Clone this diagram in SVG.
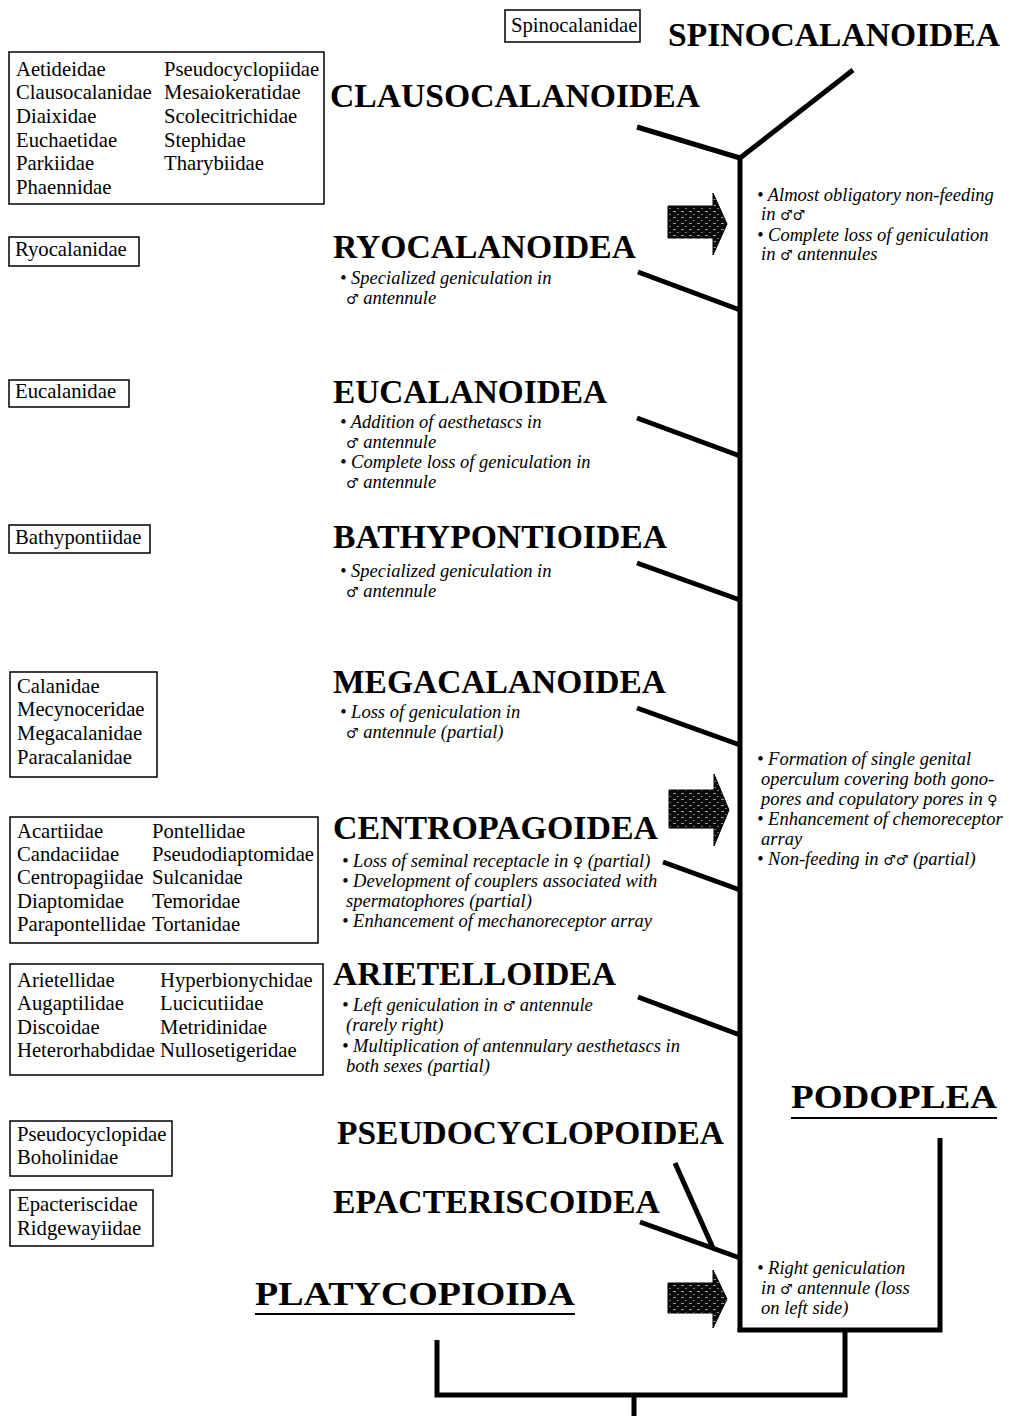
<svg xmlns="http://www.w3.org/2000/svg" width="1009" height="1416" viewBox="0 0 1009 1416">
<style>
.bg{fill:#fff}
.box{fill:none;stroke:#000;stroke-width:1.5}
.fam{font-family:"Liberation Serif","DejaVu Serif",serif;font-size:20.7px;fill:#000}
.head{font-family:"Liberation Serif","DejaVu Serif",serif;font-size:33px;font-weight:bold;fill:#000}
.note{font-family:"Liberation Serif","DejaVu Serif",serif;font-size:18.5px;font-style:italic;fill:#000}
.sym{font-family:"DejaVu Serif",serif;font-size:14px;font-style:normal}
.br{stroke:#000;stroke-width:5;fill:none;stroke-linecap:butt}
.ul{stroke:#000;stroke-width:2}
.arr{fill:url(#tex);stroke:#000;stroke-width:1}
</style>
<defs>
<pattern id="tex" width="8" height="6" patternUnits="userSpaceOnUse">
<rect width="8" height="6" fill="#0a0a0a"/>
<rect x="1" y="1" width="3" height="1" fill="#999"/>
<rect x="5" y="4" width="2" height="1" fill="#777"/>
</pattern>
</defs>
<rect class="bg" width="1009" height="1416"/>

<g id="connectors">
<line class="br" x1="740" y1="156" x2="740" y2="1332"/>
<line class="br" x1="740" y1="158" x2="853" y2="70"/>
<line class="br" x1="637" y1="127" x2="740" y2="158"/>
<line class="br" x1="638" y1="272" x2="740" y2="310"/>
<line class="br" x1="637" y1="418" x2="740" y2="456"/>
<line class="br" x1="637" y1="563" x2="740" y2="600"/>
<line class="br" x1="637" y1="708" x2="740" y2="745"/>
<line class="br" x1="663" y1="862" x2="740" y2="890"/>
<line class="br" x1="638" y1="997" x2="740" y2="1035"/>
<line class="br" x1="675" y1="1163" x2="713" y2="1248"/>
<line class="br" x1="640" y1="1222" x2="740" y2="1258"/>
<polyline class="br" points="737.5,1330 940,1330 940,1138"/>
<polyline class="br" points="845,1330 845,1395 437,1395 437,1340"/>
<line class="br" x1="634" y1="1395" x2="634" y2="1416"/>
</g>

<g id="arrows">
<path class="arr" d="M668,206 H713 V193 L727,224 L713,255 V238 H668 Z"/>
<path class="arr" d="M669,790 H714 V774 L729,810 L714,846 V828 H669 Z"/>
<path class="arr" d="M668,1283 H713 V1270 L727,1299 L713,1328 V1313 H668 Z"/>
</g>

<g id="spinocalanoidea">
<rect class="box" x="505" y="10" width="135" height="32"/>
<text class="fam" x="511" y="32" font-size="19">Spinocalanidae</text>
<text class="head" x="668" y="46" textLength="332" lengthAdjust="spacingAndGlyphs">SPINOCALANOIDEA</text>
</g>

<g id="clausocalanoidea">
<rect class="box" x="9" y="52" width="315" height="152"/>
<text class="fam" x="16" y="76">Aetideidae</text>
<text class="fam" x="16" y="99">Clausocalanidae</text>
<text class="fam" x="16" y="123">Diaixidae</text>
<text class="fam" x="16" y="147">Euchaetidae</text>
<text class="fam" x="16" y="170">Parkiidae</text>
<text class="fam" x="16" y="194">Phaennidae</text>
<text class="fam" x="164" y="76">Pseudocyclopiidae</text>
<text class="fam" x="164" y="99">Mesaiokeratidae</text>
<text class="fam" x="164" y="123">Scolecitrichidae</text>
<text class="fam" x="164" y="147">Stephidae</text>
<text class="fam" x="164" y="170">Tharybiidae</text>
<text class="head" x="330" y="107" textLength="370" lengthAdjust="spacingAndGlyphs">CLAUSOCALANOIDEA</text>
</g>

<g id="note-spino">
<text class="note" x="757" y="201">• Almost obligatory non-feeding</text>
<text class="note" x="761" y="220">in <tspan class="sym">♂♂</tspan></text>
<text class="note" x="757" y="241">• Complete loss of geniculation</text>
<text class="note" x="761" y="260">in <tspan class="sym">♂</tspan> antennules</text>
</g>

<g id="ryocalanoidea">
<rect class="box" x="9" y="237" width="130" height="29"/>
<text class="fam" x="15" y="256">Ryocalanidae</text>
<text class="head" x="333" y="258" textLength="303" lengthAdjust="spacingAndGlyphs">RYOCALANOIDEA</text>
<text class="note" x="340" y="284">• Specialized geniculation in</text>
<text class="note" x="346" y="304"><tspan class="sym">♂</tspan> antennule</text>
</g>

<g id="eucalanoidea">
<rect class="box" x="9" y="380" width="120" height="27"/>
<text class="fam" x="15" y="398">Eucalanidae</text>
<text class="head" x="333" y="403" textLength="274" lengthAdjust="spacingAndGlyphs">EUCALANOIDEA</text>
<text class="note" x="340" y="428">• Addition of aesthetascs in</text>
<text class="note" x="346" y="448"><tspan class="sym">♂</tspan> antennule</text>
<text class="note" x="340" y="468">• Complete loss of geniculation in</text>
<text class="note" x="346" y="488"><tspan class="sym">♂</tspan> antennule</text>
</g>

<g id="bathypontioidea">
<rect class="box" x="9" y="525" width="141" height="28"/>
<text class="fam" x="15" y="544">Bathypontiidae</text>
<text class="head" x="333" y="548" textLength="334" lengthAdjust="spacingAndGlyphs">BATHYPONTIOIDEA</text>
<text class="note" x="340" y="577">• Specialized geniculation in</text>
<text class="note" x="346" y="597"><tspan class="sym">♂</tspan> antennule</text>
</g>

<g id="megacalanoidea">
<rect class="box" x="10" y="672" width="147" height="105"/>
<text class="fam" x="17" y="693">Calanidae</text>
<text class="fam" x="17" y="716">Mecynoceridae</text>
<text class="fam" x="17" y="740">Megacalanidae</text>
<text class="fam" x="17" y="764">Paracalanidae</text>
<text class="head" x="333" y="693" textLength="333" lengthAdjust="spacingAndGlyphs">MEGACALANOIDEA</text>
<text class="note" x="340" y="718">• Loss of geniculation in</text>
<text class="note" x="346" y="738"><tspan class="sym">♂</tspan> antennule (partial)</text>
</g>

<g id="note-mega">
<text class="note" x="757" y="765">• Formation of single genital</text>
<text class="note" x="761" y="785">operculum covering both gono-</text>
<text class="note" x="761" y="805">pores and copulatory pores in <tspan class="sym">♀</tspan></text>
<text class="note" x="757" y="825">• Enhancement of chemoreceptor</text>
<text class="note" x="761" y="845">array</text>
<text class="note" x="757" y="865">• Non-feeding in <tspan class="sym">♂♂</tspan> (partial)</text>
</g>

<g id="centropagoidea">
<rect class="box" x="10" y="817" width="308" height="126"/>
<text class="fam" x="17" y="838">Acartiidae</text>
<text class="fam" x="17" y="861">Candaciidae</text>
<text class="fam" x="17" y="884">Centropagiidae</text>
<text class="fam" x="17" y="908">Diaptomidae</text>
<text class="fam" x="17" y="931">Parapontellidae</text>
<text class="fam" x="152" y="838">Pontellidae</text>
<text class="fam" x="152" y="861">Pseudodiaptomidae</text>
<text class="fam" x="152" y="884">Sulcanidae</text>
<text class="fam" x="152" y="908">Temoridae</text>
<text class="fam" x="152" y="931">Tortanidae</text>
<text class="head" x="333" y="839" textLength="325" lengthAdjust="spacingAndGlyphs">CENTROPAGOIDEA</text>
<text class="note" x="342" y="867">• Loss of seminal receptacle in <tspan class="sym">♀</tspan> (partial)</text>
<text class="note" x="342" y="887">• Development of couplers associated with</text>
<text class="note" x="346" y="907">spermatophores (partial)</text>
<text class="note" x="342" y="927">• Enhancement of mechanoreceptor array</text>
</g>

<g id="arietelloidea">
<rect class="box" x="10" y="964" width="313" height="111"/>
<text class="fam" x="17" y="987">Arietellidae</text>
<text class="fam" x="17" y="1010">Augaptilidae</text>
<text class="fam" x="17" y="1034">Discoidae</text>
<text class="fam" x="17" y="1057">Heterorhabdidae</text>
<text class="fam" x="160" y="987">Hyperbionychidae</text>
<text class="fam" x="160" y="1010">Lucicutiidae</text>
<text class="fam" x="160" y="1034">Metridinidae</text>
<text class="fam" x="160" y="1057">Nullosetigeridae</text>
<text class="head" x="333" y="985" textLength="283" lengthAdjust="spacingAndGlyphs">ARIETELLOIDEA</text>
<text class="note" x="342" y="1011">• Left geniculation in <tspan class="sym">♂</tspan> antennule</text>
<text class="note" x="346" y="1031">(rarely right)</text>
<text class="note" x="342" y="1052">• Multiplication of antennulary aesthetascs in</text>
<text class="note" x="346" y="1072">both sexes (partial)</text>
</g>

<g id="podoplea">
<text class="head" x="791" y="1108" textLength="206" lengthAdjust="spacingAndGlyphs">PODOPLEA</text>
<line class="ul" x1="791" y1="1118" x2="997" y2="1118"/>
</g>

<g id="pseudocyclopoidea">
<rect class="box" x="10" y="1121" width="162" height="55"/>
<text class="fam" x="17" y="1141">Pseudocyclopidae</text>
<text class="fam" x="17" y="1164">Boholinidae</text>
<text class="head" x="337" y="1144" textLength="387" lengthAdjust="spacingAndGlyphs">PSEUDOCYCLOPOIDEA</text>
</g>

<g id="epacteriscoidea">
<rect class="box" x="10" y="1190" width="143" height="56"/>
<text class="fam" x="17" y="1211">Epacteriscidae</text>
<text class="fam" x="17" y="1235">Ridgewayiidae</text>
<text class="head" x="333" y="1213" textLength="327" lengthAdjust="spacingAndGlyphs">EPACTERISCOIDEA</text>
</g>

<g id="note-podo">
<text class="note" x="757" y="1274">• Right geniculation</text>
<text class="note" x="761" y="1294">in <tspan class="sym">♂</tspan> antennule (loss</text>
<text class="note" x="761" y="1314">on left side)</text>
</g>

<g id="platycopioida">
<text class="head" x="255" y="1305" textLength="320" lengthAdjust="spacingAndGlyphs">PLATYCOPIOIDA</text>
<line class="ul" x1="255" y1="1314" x2="575" y2="1314"/>
</g>
</svg>
